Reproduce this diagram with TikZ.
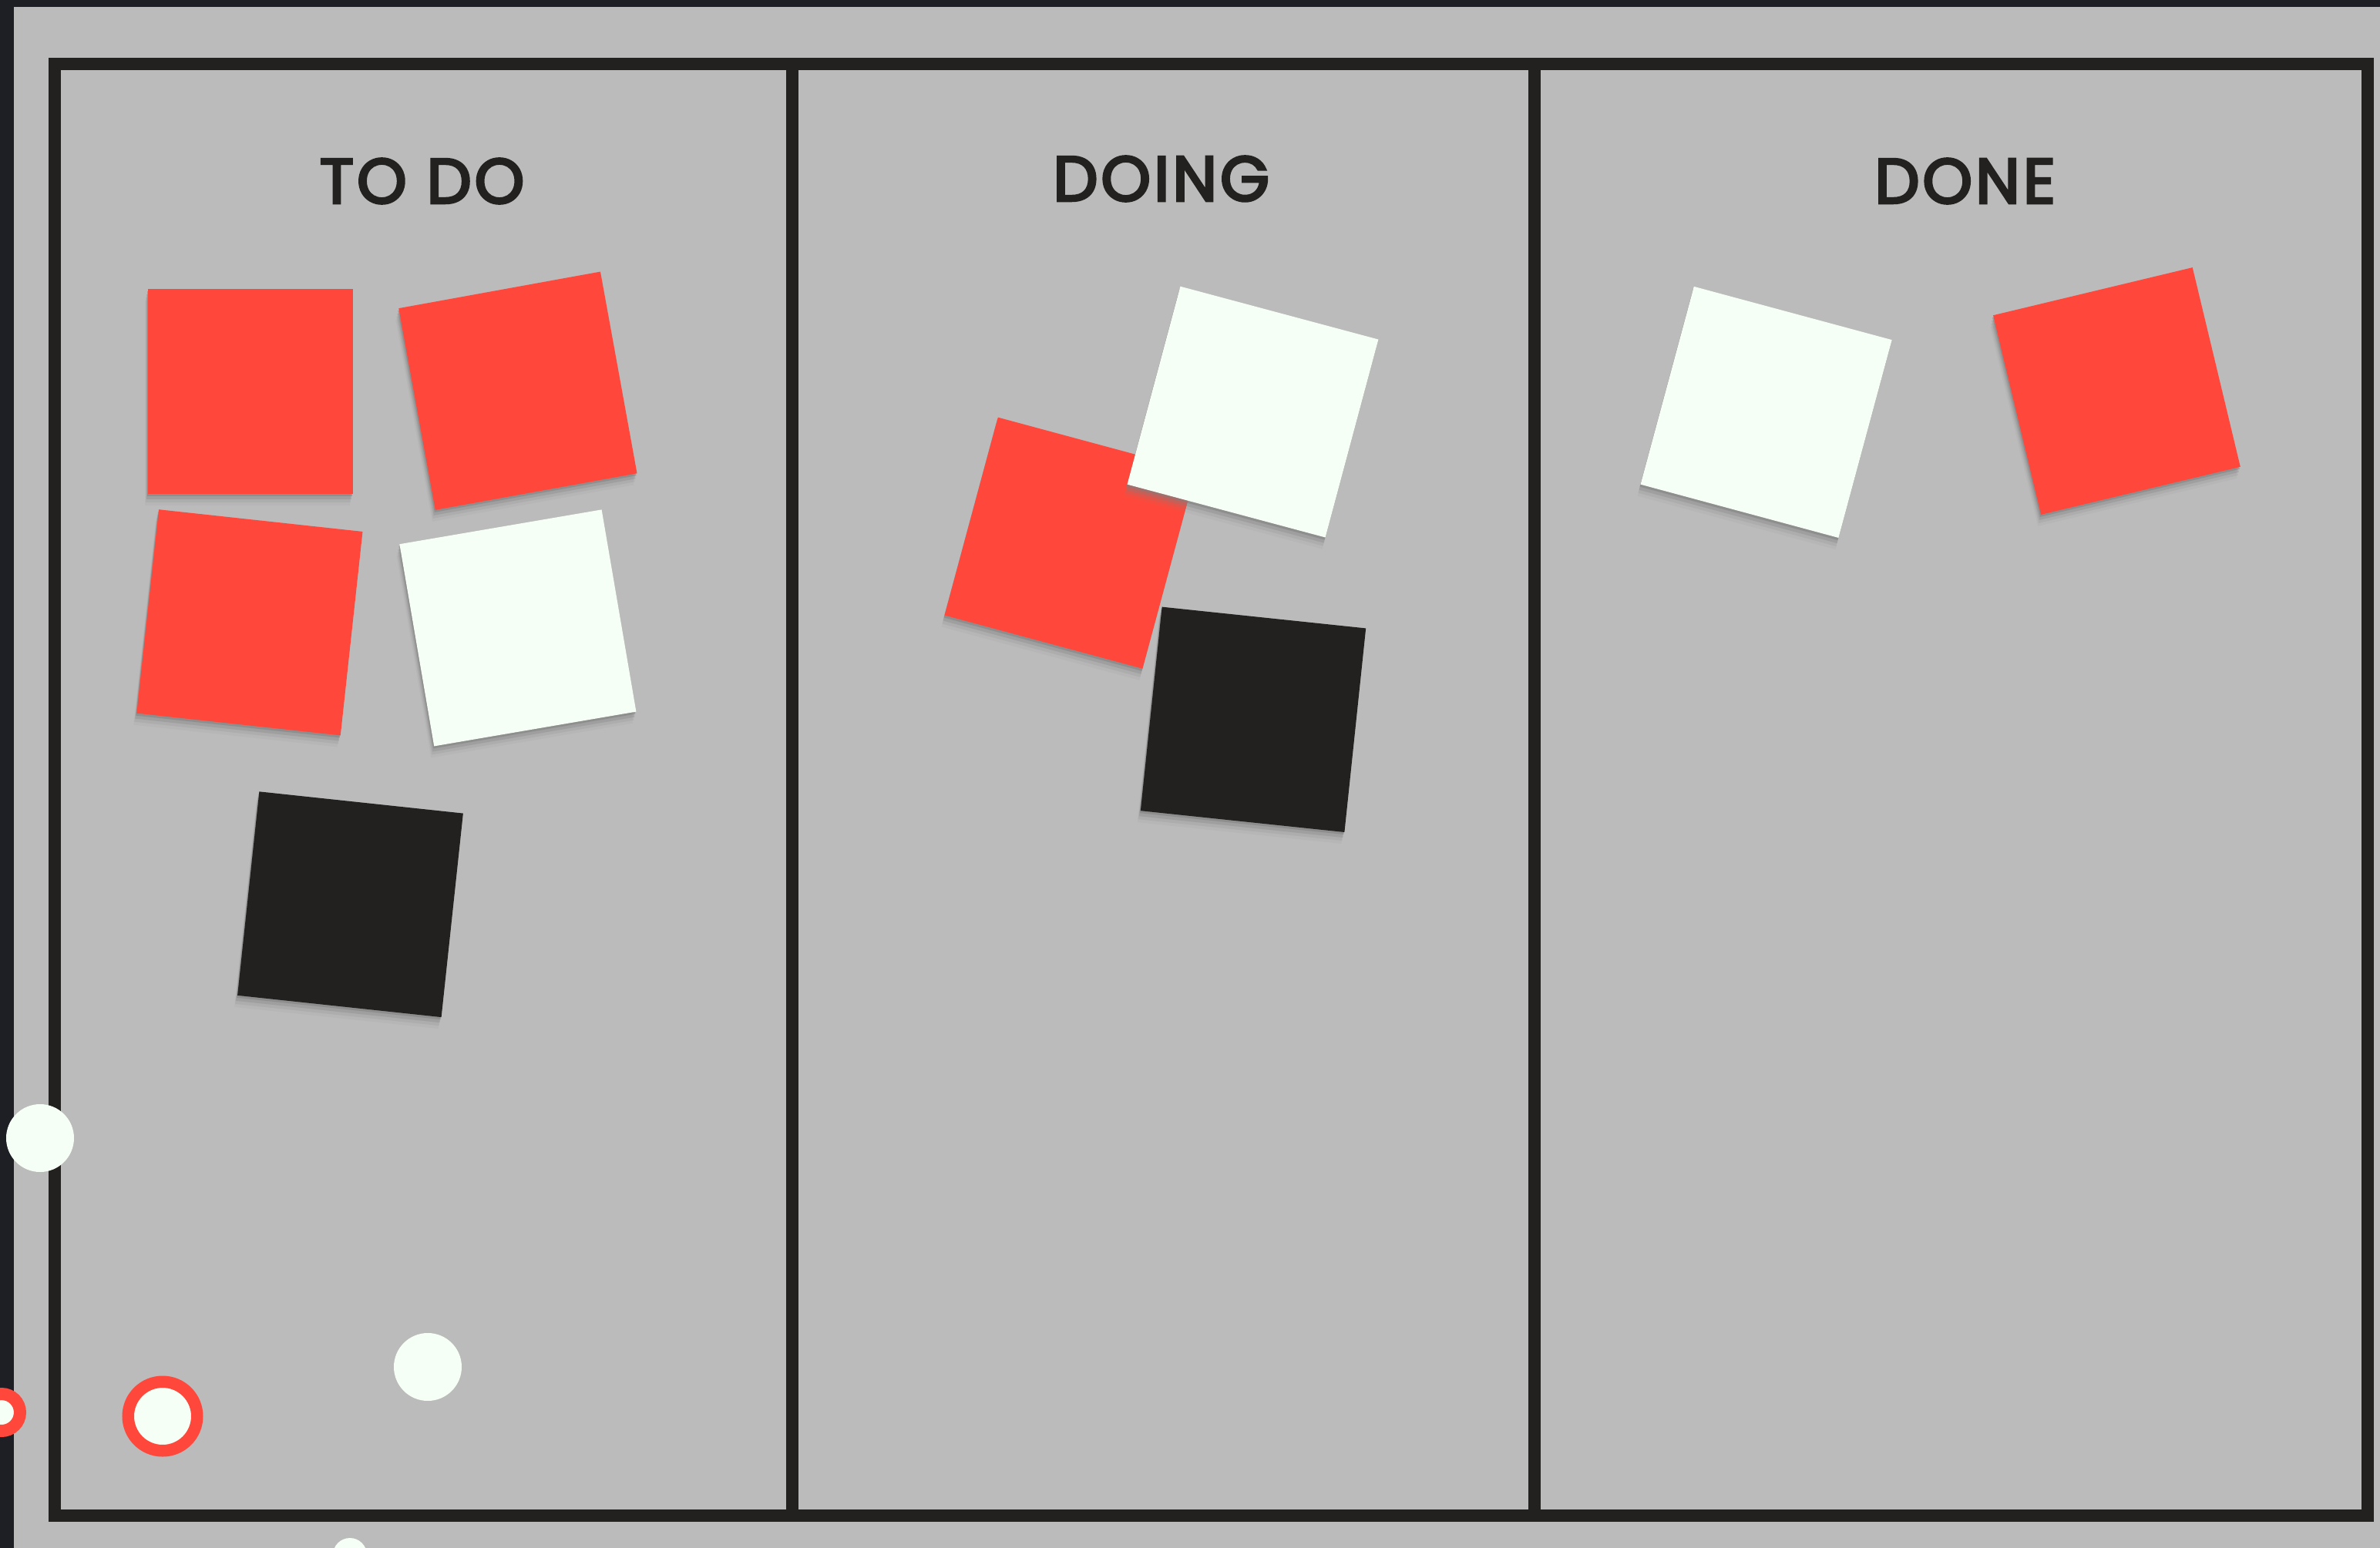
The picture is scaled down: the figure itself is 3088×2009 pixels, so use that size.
\documentclass[tikz,border=0pt]{standalone}
\usepackage{fontspec}
\usepackage{xcolor}
\usepackage{tikz}
\usetikzlibrary{shadows}
\newfontfamily\headfont{Poppins}[LetterSpace=5,FakeBold=4]
\definecolor{wall}{HTML}{1E1F24}
\definecolor{board}{HTML}{BBBBBB}
\definecolor{ink}{HTML}{22211F}
\definecolor{notered}{HTML}{FF483B}
\definecolor{notewhite}{HTML}{F6FFF5}
\tikzset{
  frame/.style={draw=ink,line width=16pt},
  heading/.style={text=ink,inner sep=0pt,font=\headfont\fontsize{82}{82}\selectfont},
  note/.style={minimum size=266pt,inner sep=0pt,outer sep=0pt,
    drop shadow={shadow xshift=-1pt,shadow yshift=-3pt,opacity=.5},
    drop shadow={shadow xshift=-2pt,shadow yshift=-7pt,opacity=.3},
    drop shadow={shadow xshift=-3pt,shadow yshift=-11pt,opacity=.16},
    drop shadow={shadow xshift=-4pt,shadow yshift=-15pt,opacity=.08}},
  magnet/.style={circle,fill=notewhite,inner sep=0pt,minimum size=#1},
  ring/.style={circle,fill=notewhite,draw=notered,inner sep=0pt,line width=15.5pt,minimum size=#1},
}
\begin{document}
\begin{tikzpicture}[x=1pt,y=-1pt]
\useasboundingbox (0,0) rectangle (3088,2009);
\clip (0,0) rectangle (3088,2009);
\fill[wall] (0,0) rectangle (3088,2009);
\fill[board] (18,9) rectangle (3088,2009);
% board and columns
\draw[frame] (71,83) rectangle (3072,1967);
\foreach \x in {1028,1991} \draw[frame] (\x,83)--(\x,1967);
\node[heading] (todo) at (547.5,235) {TO DO};
\node[heading] (doing) at (1506.7,232) {DOING};
\node[heading] (done) at (2549.7,235) {DONE};
% sticky notes
\foreach \nm/\x/\y/\ang/\col in {
  red1/324.5/507.5/0/notered, red2/671.9/507.2/10.3/notered,
  red3/323.9/807.8/-6.2/notered, white1/671.9/814.9/9.7/notewhite,
  black1/454.5/1173.7/-6.1/ink,
  red4/1388.6/704.7/-15.1/notered, white2/1625.5/534.6/-15/notewhite,
  black2/1626/933.8/-6/ink,
  white3/2291.6/534.9/-15.1/notewhite, red5/2746.4/507.5/13.5/notered}
  \node[note,fill=\col,rotate=\ang] (\nm) at (\x,\y) {};
% magnets
\node[magnet=88pt] (mag1) at (52,1477) {};
\node[magnet=88pt] (mag2) at (555,1774) {};
\node[magnet=44pt] (mag3) at (454,2018) {};
\node[ring=89.5pt] (mag4) at (211,1838) {};
\node[ring=48pt,line width=16pt] (mag5) at (2,1833) {};
\end{tikzpicture}
\end{document}
